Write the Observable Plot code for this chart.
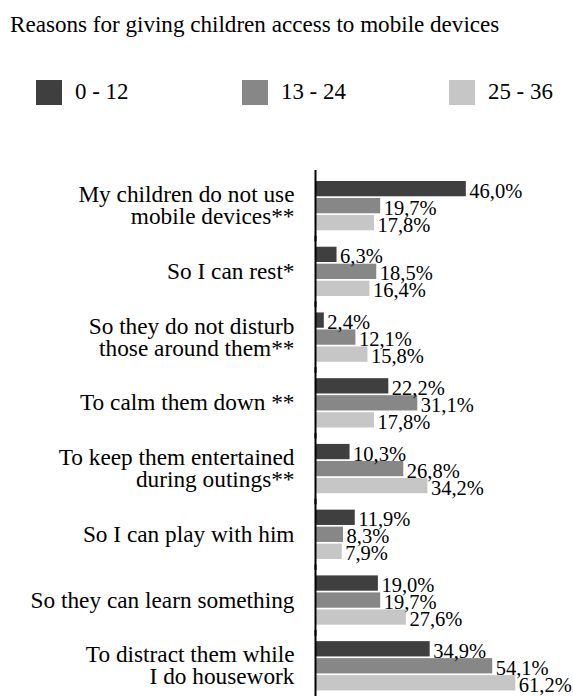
<!DOCTYPE html>
<html>
<head>
<meta charset="utf-8">
<script src="https://cdn.jsdelivr.net/npm/d3@7"></script>
<script src="https://cdn.jsdelivr.net/npm/@observablehq/plot@0.6"></script>
<style>
  html, body { margin: 0; padding: 0; background: #fff; }
  body { width: 573px; height: 696px; position: relative; overflow: hidden;
         font-family: "Liberation Serif", "Times New Roman", serif; color: #000; }
  #title { position: absolute; left: 10px; top: 12.5px; font-size: 23.1px; line-height: 23px; white-space: nowrap; }
  .leg { position: absolute; top: 80px; height: 25px; }
  .leg .sw { width: 26px; height: 25px; }
  .leg .lt { position: absolute; top: 0px; font-size: 22.9px; line-height: 23px; white-space: nowrap; }
  #chart { position: absolute; left: 0; top: 150px; }
  #chart svg { display: block; }
</style>
</head>
<body>
<div id="title">Reasons for giving children access to mobile devices</div>
<div id="legend"></div>
<div id="chart"></div>
<script>
const categories = [
  "My children do not use\nmobile devices**",
  "So I can rest*",
  "So they do not disturb\nthose around them**",
  "To calm them down **",
  "To keep them entertained\nduring outings**",
  "So I can play with him",
  "So they can learn something",
  "To distract them while\nI do housework"
];
const series = ["0 - 12", "13 - 24", "25 - 36"];
const values0to12  = [46.0, 6.3, 2.4, 22.2, 10.3, 11.9, 19.0, 34.9];
const values13to24 = [19.7, 18.5, 12.1, 31.1, 26.8, 8.3, 19.7, 54.1];
const values25to36 = [17.8, 16.4, 15.8, 17.8, 34.2, 7.9, 27.6, 61.2];
const colors = ["#3f3f3f", "#878787", "#c6c6c6"];

const allValues = [values0to12, values13to24, values25to36];
const data = categories.flatMap((c, i) =>
  series.map((s, j) => ({category: c, series: s, value: allValues[j][i]}))
);
const fmt = v => v.toFixed(1).replace(".", ",") + "%";

// Legend
const legendX = [36, 242, 449];
const legend = document.getElementById("legend");
series.forEach((s, j) => {
  const item = document.createElement("div");
  item.className = "leg";
  item.style.left = legendX[j] + "px";
  item.innerHTML = `<div class="sw" style="background:${colors[j]}"></div><div class="lt" style="left:39px">${s}</div>`;
  legend.appendChild(item);
});

const font = '"Liberation Serif", "Times New Roman", serif';
const chart = Plot.plot({
  width: 573,
  height: 547,
  marginLeft: 316,
  marginRight: 29,
  marginTop: 24.4,
  marginBottom: 0,
  x: {domain: [0, 70], axis: null},
  y: {domain: series, axis: null, paddingInner: 0.1, paddingOuter: 0, round: false},
  fy: {domain: categories, paddingInner: 0.25, paddingOuter: 0.1, label: null, round: false},
  color: {domain: series, range: colors},
  style: {fontFamily: font, fontSize: "23.3px", color: "#000", background: "transparent"},
  marks: [
    Plot.barX(data, {x: "value", y: "series", fy: "category", fill: "series"}),
    Plot.text(data, {x: "value", y: "series", fy: "category", text: d => fmt(d.value),
      textAnchor: "start", dx: 3, dy: 2, fontSize: 20.5, fill: "#000"}),
    Plot.ruleX([0], {stroke: "#000", strokeWidth: 2, insetTop: -11, insetBottom: -11, dx: -1}),
    Plot.axisFy({anchor: "left", tickSize: 0, tickPadding: 22, fontSize: 23.3, lineHeight: 0.95, label: null, fill: "#000"})
  ]
});
document.getElementById("chart").appendChild(chart);
</script>
</body>
</html>
